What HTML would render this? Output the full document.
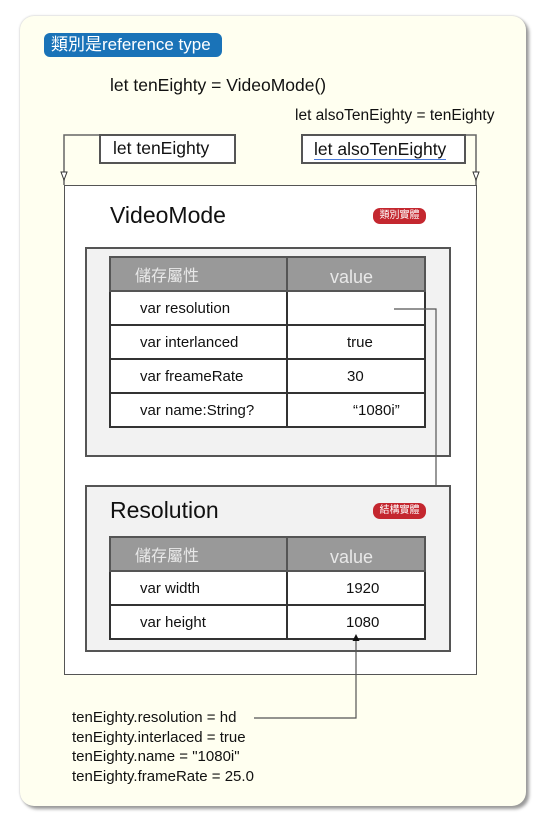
<!DOCTYPE html>
<html><head><meta charset="utf-8"><style>
*{margin:0;padding:0;box-sizing:border-box}
body{width:556px;height:814px;background:#fff;position:relative;overflow:hidden;font-family:"Liberation Sans","Noto Sans CJK TC",sans-serif;color:#111}
.a{position:absolute;white-space:nowrap}
.panel{left:20px;top:16px;width:506px;height:790px;background:#fffff0;border-radius:14px;box-shadow:3px 3px 3px #999,0 0 2px #bbb}
.box{border:2px solid #555;background:#fff}
.gray{background:#f2f2f2;border:2px solid #555}
.badge{background:#c4272f;color:#fff;font-size:10px;border-radius:7px;text-align:center;line-height:16px;height:16px}
table{position:absolute;border-collapse:collapse;background:#fff}
td{border:2px solid #333;font-size:15px;height:34px}
th{background:#999;border:2px solid #555;color:#e8e8e8;font-weight:normal;height:34px;text-align:left}
</style></head><body>
<div class="a panel"></div>
<div class="a" style="left:44px;top:33px;width:178px;height:24px;background:#1a73b8;border-radius:6px;color:#fff;font-size:17px;line-height:24px;padding-left:7px">類別是reference type</div>
<div class="a" style="left:110px;top:75px;font-size:17.5px">let tenEighty = VideoMode()</div>
<div class="a" style="left:295px;top:107px;font-size:15.5px">let alsoTenEighty = tenEighty</div>

<svg class="a" style="left:0;top:0" width="556" height="814">
<path d="M100 135 H64 V185 M465 135 H476 V185" fill="none" stroke="#666" stroke-width="1.5"/>
<path d="M61 172 l3 8 l3 -8z M473 172 l3 8 l3 -8z" fill="#fff" stroke="#333" stroke-width="1"/>
</svg>
<div class="a box" style="left:99px;top:134px;width:137px;height:30px;font-size:17.5px;padding:2px 0 0 12px">let tenEighty</div>
<div class="a box" style="left:301px;top:134px;width:165px;height:30px;font-size:17.5px;padding:3px 0 0 11px"><span style="border-bottom:1px solid #4a7ad8">let alsoTenEighty</span></div>

<div class="a box" style="left:64px;top:185px;width:413px;height:490px;border-width:1.5px"></div>
<div class="a" style="left:110px;top:202px;font-size:23px">VideoMode</div>
<div class="a badge" style="left:373px;top:208px;width:53px">類別實體</div>

<div class="a gray" style="left:85px;top:247px;width:366px;height:210px"></div>
<table style="left:109px;top:256px;width:317px">
<tr><th style="width:177px;padding-left:24px;font-size:16px">儲存屬性</th><th style="padding-left:42px;font-size:18px;padding-top:6px">value</th></tr>
<tr><td style="padding-left:29px">var resolution</td><td></td></tr>
<tr><td style="padding-left:29px">var interlanced</td><td style="padding-left:59px">true</td></tr>
<tr><td style="padding-left:29px">var freameRate</td><td style="padding-left:59px">30</td></tr>
<tr><td style="padding-left:29px">var name:String?</td><td style="padding-left:65px">“1080i”</td></tr>
</table>

<div class="a gray" style="left:85px;top:485px;width:366px;height:167px"></div>
<div class="a" style="left:110px;top:497px;font-size:23px">Resolution</div>
<div class="a badge" style="left:373px;top:503px;width:53px">結構實體</div>
<table style="left:109px;top:536px;width:317px">
<tr><th style="width:177px;padding-left:24px;font-size:16px">儲存屬性</th><th style="padding-left:42px;font-size:18px;padding-top:6px">value</th></tr>
<tr><td style="padding-left:29px">var width</td><td style="padding-left:58px">1920</td></tr>
<tr><td style="padding-left:29px">var height</td><td style="padding-left:58px">1080</td></tr>
</table>

<svg class="a" style="left:0;top:0" width="556" height="814">
<path d="M394 309 H436 V486" fill="none" stroke="#555" stroke-width="1.2"/>
<path d="M254 718 H356 V640" fill="none" stroke="#555" stroke-width="1.2"/>
<path d="M352.5 641 L356 634 L359.5 641z" fill="#111"/>
</svg>
<div class="a" style="left:72px;top:708px;font-size:15px;line-height:19.5px">tenEighty.resolution = hd<br>tenEighty.interlaced = true<br>tenEighty.name = "1080i"<br>tenEighty.frameRate = 25.0</div>
</body></html>
